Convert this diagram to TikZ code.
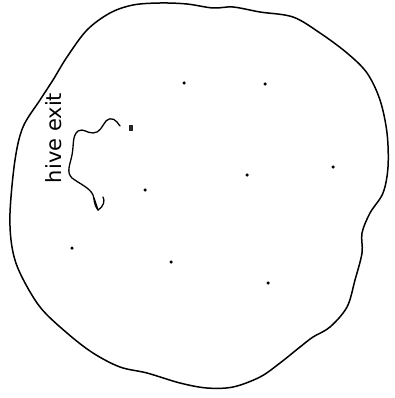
\documentclass[tikz,border=0pt]{standalone}
\usepackage{fontspec}
\setmainfont{DejaVu Sans}
\begin{document}
\begin{tikzpicture}[x=1pt,y=-1pt,
  outline/.style={line width=1.5pt,line join=round},
  flower/.style={circle,fill=black,inner sep=0pt,minimum size=3.5pt},
  hive/.style={rectangle,fill=black!85,inner sep=0pt,minimum width=4.5pt,minimum height=6pt},
  label/.style={font=\fontsize{21}{21}\selectfont,inner sep=0pt,rotate=90},
  squig/.style={line width=1.3pt,line cap=round,line join=round}]
\useasboundingbox (0,0) rectangle (394,398);
\draw[outline] plot[smooth cycle,tension=0.55] coordinates {
 (53,80) (67,57) (87,30) (110,13) (133,5) (160,3) (187,4) (213,8) (233,7)
 (260,12) (293,17) (320,33) (347,53) (367,73) (380,100) (387,133) (388,167)
 (383,193) (370,213) (362,233) (362,253) (355,280) (347,307) (330,327)
 (313,337) (300,347) (280,363) (260,377) (233,387) (207,388) (180,383)
 (147,373) (120,367) (93,353) (67,333) (40,307) (20,273) (12,247) (10,213)
 (15,160) (23,127) (40,100)};
\node[hive] (h) at (131,128) {};
\node[flower] (f1) at (184,83) {};
\node[flower] (f2) at (265,84) {};
\node[flower] (f3) at (247,175) {};
\node[flower] (f4) at (333,167) {};
\node[flower] (f5) at (145,190) {};
\node[flower] (f6) at (72,248) {};
\node[flower] (f7) at (171,262) {};
\node[flower] (f8) at (268,283) {};
\node[label] (t) at (54,138) {hive exit};
\coordinate (s) at (120,126);
\coordinate (e) at (98,210);
\draw[squig] (s) .. controls (116,120) and (112,116) .. (106,121)
  .. controls (102,126) and (100,133) .. (93,133)
  .. controls (86,133) and (84,128) .. (78,131)
  .. controls (72,136) and (74,145) .. (72,155)
  .. controls (70,165) and (66,172) .. (72,178)
  .. controls (80,184) and (90,188) .. (93,195)
  .. controls (95,200) and (93,203) .. (e);
\draw[squig] (e) -- (94,198);
\draw[squig] (e) .. controls (104,206) and (105,201) .. (103,197);
\end{tikzpicture}
\end{document}
